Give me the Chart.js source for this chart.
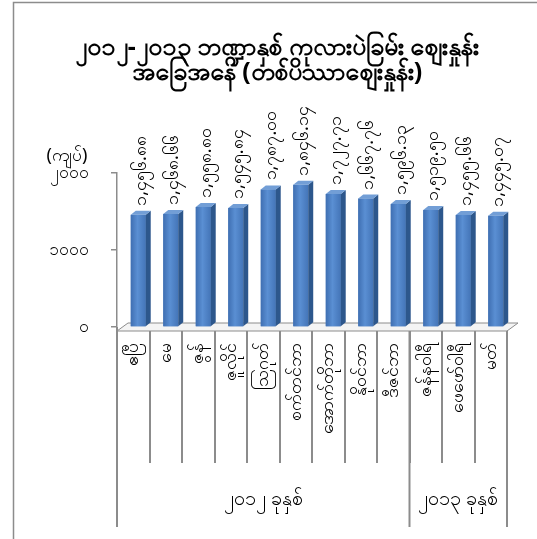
<!DOCTYPE html>
<html>
<head>
<meta charset="utf-8">
<script src="https://cdn.jsdelivr.net/npm/chart.js@4.4.0/dist/chart.umd.min.js"></script>
<style>
  html, body { margin: 0; padding: 0; background: #fff; }
  #wrap { width: 537px; height: 539px; }
</style>
</head>
<body>
<div id="wrap"><canvas id="chart"></canvas></div>
<script>
// ── DATA ────────────────────────────────────────────────────────────────────
const titleLines  = ['၂၀၁၂-၂၀၁၃ ဘဏ္ဍာနှစ် ကုလားပဲခြမ်း ဈေးနှုန်း', 'အခြေအနေ (တစ်ပိဿာဈေးနှုန်း)'];
const unitLabel   = '(ကျပ်)';
const months      = ['ဧပြီ', 'မေ', 'ဇွန်', 'ဇူလိုင်', 'ဩဂုတ်', 'စက်တင်ဘာ', 'အောက်တိုဘာ',
                     'နိုဝင်ဘာ', 'ဒီဇင်ဘာ', 'ဇန်နဝါရီ', 'ဖေဖော်ဝါရီ', 'မတ်'];
const prices      = [1456.88, 1468.66, 1558.80, 1545.84, 1787.00, 1846.14,
                     1727.71, 1667.76, 1596.13, 1519.50, 1455.66, 1445.07];
const yTickLabels = ['၀', '၁၀၀၀', '၂၀၀၀'];
const yearGroups  = ['၂၀၁၂ ခုနှစ်', '၂၀၁၃ ခုနှစ်'];
const yearSpans   = [9, 3];

// ── STYLE ───────────────────────────────────────────────────────────────────
const FONT  = "'Noto Sans', 'DejaVu Sans', sans-serif";
const GRAY  = '#8c8c8c';
const DEPTH = { x: 5, y: -4 };    // bar extrusion
const FLOOR = { x: 11, y: -8 };   // floor depth

// ── HELPERS ─────────────────────────────────────────────────────────────────

/** Western digits -> Myanmar digits. */
function toMyanmar(str) {
  return String(str).replace(/\d/g, d => String.fromCharCode(0x1040 + Number(d)));
}

function fmtPrice(v) {
  return toMyanmar(v.toLocaleString('en-US', { minimumFractionDigits: 2, maximumFractionDigits: 2 }));
}

function poly(ctx, pts, fill, stroke) {
  ctx.beginPath();
  ctx.moveTo(pts[0][0], pts[0][1]);
  for (let i = 1; i < pts.length; i++) ctx.lineTo(pts[i][0], pts[i][1]);
  ctx.closePath();
  if (fill) { ctx.fillStyle = fill; ctx.fill(); }
  if (stroke) { ctx.strokeStyle = stroke; ctx.lineWidth = 1; ctx.stroke(); }
}

// ── 3D / FRAME PLUGIN ───────────────────────────────────────────────────────
const frame3d = {
  id: 'frame3d',
  beforeDraw(chart) {
    const { ctx, width, height } = chart;
    ctx.save();
    ctx.fillStyle = '#fff';
    ctx.fillRect(0, 0, width, height);
    ctx.strokeStyle = GRAY;
    ctx.lineWidth = 1.5;
    ctx.strokeRect(13.5, 2.5, width + 20, height + 20);
    ctx.restore();
  },
  // bars stand in the middle of the floor's depth -> push their axis right
  afterLayout(chart) {
    const xs = chart.scales.x;
    xs.left += DEPTH.x;
    xs.right += DEPTH.x;
    xs.configure();
  },
  beforeDatasetsDraw(chart) {
    const { ctx } = chart;
    const xl = chart.scales.xl;
    const y0 = chart.scales.y.getPixelForValue(0) + 4;
    ctx.save();
    poly(ctx, [
      [xl.left, y0], [xl.right, y0],
      [xl.right + FLOOR.x, y0 + FLOOR.y], [xl.left + FLOOR.x, y0 + FLOOR.y]
    ], '#f4f4f4', GRAY);
    ctx.restore();
  },
  afterDatasetsDraw(chart) {
    const { ctx } = chart;
    const meta = chart.getDatasetMeta(0);
    ctx.save();
    meta.data.forEach((bar, i) => {
      const { x, y, base, width } = bar.getProps(['x', 'y', 'base', 'width'], true);
      const l = x - width / 2, r = x + width / 2;

      // shade the front face like Excel's 3D columns
      const g = ctx.createLinearGradient(l, 0, r, 0);
      g.addColorStop(0, '#3f6fb2');
      g.addColorStop(0.45, '#5a8fd3');
      g.addColorStop(1, '#4475b8');
      ctx.fillStyle = g;
      ctx.fillRect(l, y, r - l, base - y);

      poly(ctx, [[r, y], [r + DEPTH.x, y + DEPTH.y], [r + DEPTH.x, base + DEPTH.y], [r, base]], '#2d578c');
      poly(ctx, [[l, y], [l + DEPTH.x, y + DEPTH.y], [r + DEPTH.x, y + DEPTH.y], [r, y]], '#729ed6');

      // rotated value label
      ctx.save();
      ctx.translate(x + DEPTH.x / 2, y + DEPTH.y - 5);
      ctx.rotate(-Math.PI / 2);
      ctx.font = `18px ${FONT}`;
      ctx.fillStyle = '#000';
      ctx.textAlign = 'left';
      ctx.textBaseline = 'middle';
      ctx.fillText(fmtPrice(prices[i]), 0, 0);
      ctx.restore();
    });
    ctx.restore();
  },
  afterDraw(chart) {
    const { ctx } = chart;
    const xl = chart.scales.xl;
    const y0 = chart.scales.y.getPixelForValue(0);
    const step = (xl.right - xl.left) / months.length;
    ctx.save();

    // unit label above the value axis
    ctx.font = `18px ${FONT}`;
    ctx.fillStyle = '#000';
    ctx.textAlign = 'center';
    ctx.textBaseline = 'middle';
    ctx.fillText(unitLabel, 67, 156);

    // year group separators + labels
    ctx.strokeStyle = GRAY;
    ctx.lineWidth = 2;
    let start = 0;
    const edges = [0];
    yearSpans.forEach(s => { start += s; edges.push(start); });
    edges.forEach(e => {
      const px = xl.left + e * step;
      ctx.beginPath();
      ctx.moveTo(px, y0 + 4);
      ctx.lineTo(px, 527);
      ctx.stroke();
    });
    ctx.font = `20px ${FONT}`;
    yearGroups.forEach((g, i) => {
      const cx = xl.left + (edges[i] + edges[i + 1]) / 2 * step;
      ctx.fillText(g, cx, 499);
    });
    ctx.restore();
  }
};

// ── CHART ───────────────────────────────────────────────────────────────────
new Chart(document.getElementById('chart'), {
  type: 'bar',
  data: {
    labels: months,
    datasets: [{
      data: prices,
      backgroundColor: '#4a7ec0',
      borderWidth: 0,
      categoryPercentage: 1,
      barPercentage: 0.46,
      xAxisID: 'x',
      clip: false,
    }]
  },
  options: {
    responsive: true,
    maintainAspectRatio: false,
    animation: false,
    layout: { padding: { left: 47, right: 30, top: 0, bottom: 0 } },
    plugins: {
      legend: { display: false },
      tooltip: { enabled: false },
      title: {
        display: true,
        text: titleLines,
        color: '#000',
        font: { family: FONT, size: 25, weight: 'bold', lineHeight: '25px' },
        padding: { top: 35, bottom: 88 },
      },
    },
    scales: {
      x: {
        display: false,
        offset: true,
      },
      xl: {
        type: 'category',
        position: 'bottom',
        labels: months,
        offset: true,
        border: { display: false },
        grid: {
          offset: true,
          drawOnChartArea: false,
          tickLength: 136,
          color: GRAY,
          lineWidth: 2,
        },
        ticks: {
          autoSkip: false,
          minRotation: 90,
          maxRotation: 90,
          padding: -120,
          color: '#000',
          font: { family: FONT, size: 18 },
        },
        afterFit: (s) => { s.height = 212; },
      },
      y: {
        min: 0,
        max: 2000,
        border: { display: true, color: GRAY, width: 1.5 },
        grid: { drawOnChartArea: false, tickLength: 6, color: GRAY, lineWidth: 1.5 },
        ticks: {
          stepSize: 1000,
          padding: 22,
          color: '#000',
          font: { family: FONT, size: 17 },
          callback: (v) => yTickLabels[v / 1000],
        },
        afterFit: (s) => { s.width = 70; },
      },
    },
  },
  plugins: [frame3d],
});
</script>
</body>
</html>
